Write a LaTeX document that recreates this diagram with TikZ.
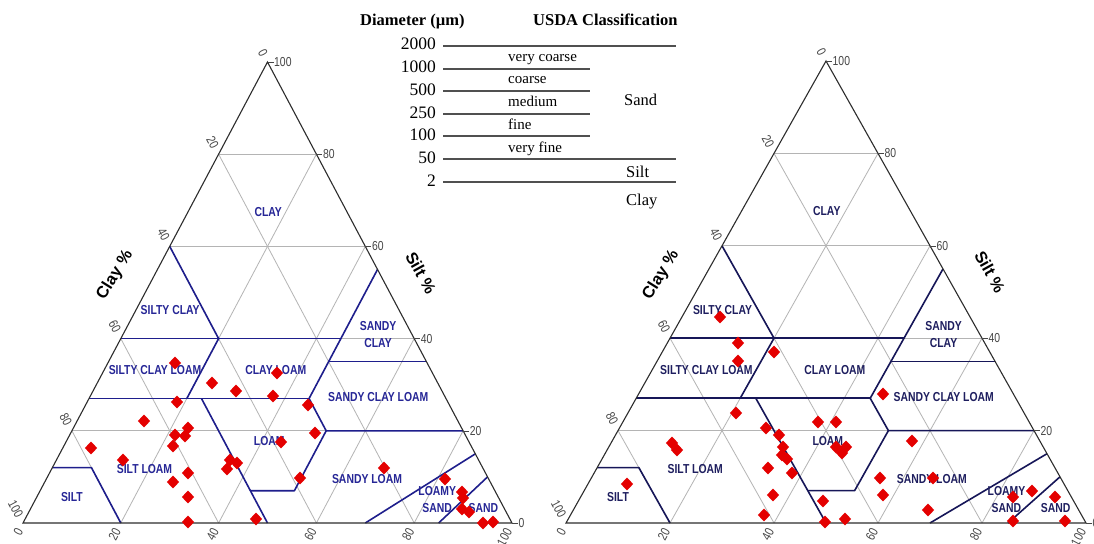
\documentclass[tikz,border=0pt]{standalone}
\usepackage{fontspec}
\setmainfont{Liberation Serif}
\newfontfamily\lsans{Liberation Sans}
\usetikzlibrary{shapes.geometric}

\definecolor{navyL}{RGB}{30,30,140}
\definecolor{navyR}{RGB}{22,22,88}
\definecolor{labL}{RGB}{38,38,150}
\definecolor{labR}{RGB}{30,30,95}
\definecolor{gridc}{RGB}{180,180,180}
\definecolor{outc}{RGB}{45,45,45}
\definecolor{ptred}{RGB}{228,0,0}
\definecolor{tickc}{RGB}{70,70,70}
\definecolor{tblc}{RGB}{80,80,80}

\newcommand\nar[1]{\scalebox{0.8}[1]{#1}}

% #1 prefix, #2 label colour, #3 boundary colour
\newcommand\soiltri[3]{%
  \foreach \k in {20,40,60,80}{
    \pgfmathtruncatemacro\m{100-\k}
    \draw[gridline] (0,\k) -- (\m,\k);
    \draw[gridline] (\k,0) -- (\k,\m);
    \draw[gridline] (\k,0) -- (0,\k);
  }
  \begin{scope}[bnd, draw=#3]
    \draw (0,40) -- (45,40);
    \draw (0,60) -- (20,40) -- (20,27);
    \draw (0,27) -- (45,27);
    \draw (45,27) -- (45,55);
    \draw (45,35) -- (65,35);
    \draw (45,27) -- (52,20) -- (80,20);
    \draw (52,20) -- (52,7) -- (43,7);
    \draw (23,27) -- (50,0);
    \draw (0,12) -- (8,12) -- (20,0);
    \draw (70,0) -- (85,15);
    \draw (85,0) -- (90,10);
  \end{scope}
  \draw[outline] (0,0) -- (100,0) -- (0,100) -- cycle;
  \foreach \k in {0,20,40,60,80,100}{
    \pgfmathtruncatemacro\m{100-\k}
    \node[ticklab, rotate=62, anchor=east] (#1b\k) at ([shift={(-3pt,-6pt)}]\k,0) {\nar{\k}};
    \node[ticklab, rotate=-62, anchor=east] (#1l\k) at ([shift={(-3pt,6pt)}]0,\k) {\nar{\m}};
    \draw[draw=tickc, line width=0.6pt] (\m,\k) -- ++(6pt,0pt) coordinate (#1t\k);
    \node[ticklab, anchor=west] (#1r\k) at (#1t\k) {\nar{\k}};
  }
  \begin{scope}[every node/.style={cls, text=#2}]
    \node (#1clay) at (16.4,67.5) {\nar{CLAY}};
    \node (#1sc) at (7,46.2) {\nar{SILTY CLAY}};
    \node (#1scl) at (10.4,33.2) {\nar{SILTY CLAY LOAM}};
    \node (#1cl) at (35.1,33.2) {\nar{CLAY LOAM}};
    \node (#1sac) at (52.2,40.8) {\nar{SANDY}\\\nar{CLAY}};
    \node (#1sacl) at (59,27.3) {\nar{SANDY CLAY LOAM}};
    \node (#1loam) at (41.5,17.7) {\nar{LOAM}};
    \node (#1sil) at (19,11.7) {\nar{SILT LOAM}};
    \node (#1silt) at (7.2,5.6) {\nar{SILT}};
    \node (#1sal) at (65.6,9.5) {\nar{SANDY LOAM}};
    \node (#1ls) at (82.2,5) {\nar{LOAMY}\\\nar{SAND}};
    \node (#1sand) at (92.5,3.3) {\nar{SAND}};
  \end{scope}
}

\begin{document}
\begin{tikzpicture}[x=1pt,y=-1pt,
  gridline/.style={draw=gridc, line width=0.8pt},
  bnd/.style={line width=1.6pt, line join=round},
  outline/.style={draw=outc, line width=1.1pt},
  ticklab/.style={text=tickc, font=\lsans\fontsize{13}{14}\selectfont, inner sep=0.5pt},
  cls/.style={font=\lsans\bfseries\fontsize{13}{17}\selectfont, inner sep=0pt, align=center},
  dmd/.style={diamond, fill=ptred, inner sep=0pt, minimum width=12.5pt, minimum height=13pt},
  axtitle/.style={font=\lsans\bfseries\fontsize{16.5}{18}\selectfont, inner sep=0pt},
  tbl/.style={draw=tblc, line width=1.2pt},
  tnum/.style={font=\fontsize{17.5}{18}\selectfont, inner sep=0pt, anchor=base east},
  tsub/.style={font=\fontsize{15}{16}\selectfont, inner sep=0pt, anchor=base west},
  tcls/.style={font=\fontsize{16.5}{17}\selectfont, inner sep=0pt, anchor=base west},
  ttitle/.style={font=\bfseries\fontsize{16.5}{17}\selectfont, inner sep=0pt, anchor=base west}]
\useasboundingbox (0,0) rectangle (1094,543);
\fill[white] (0,0) rectangle (1094,543);

% ---------- left triangle ----------
\begin{scope}[shift={(23,523)}, x={(4.89pt,0pt)}, y={(2.445pt,4.61pt)}]
  \soiltri{L}{labL}{navyL}
\end{scope}
\node[axtitle, rotate=58] (Lcpc) at (115,275) {Clay \%};
\node[axtitle, rotate=-61] (Lspc) at (421,273) {Silt \%};

% ---------- right triangle ----------
\begin{scope}[shift={(566,523)}, x={(5.2pt,0pt)}, y={(2.6pt,4.62pt)}]
  \soiltri{R}{labR}{navyR}
\end{scope}
\node[axtitle, rotate=58] (Rcpc) at (661,275) {Clay \%};
\node[axtitle, rotate=-61] (Rspc) at (990,272) {Silt \%};

% ---------- data points ----------
\foreach \px/\py [count=\i] in {175/363,212/383,236/391,277/373,273/396,177/402,144/421,
  188/428,175/435,185/436,173/446,91/448,123/460,230/460,237/463,227/469,188/473,173/482,
  188/497,188/522,256/519,308/405,315/433,281/442,300/478,384/468,445/479,462/492,463/498,
  462/509,469/512,483/523,493/522}
  \node[dmd] (Lp\i) at (\px,\py) {};
\foreach \px/\py [count=\i] in {720/317,738/343,738/361,774/352,736/413,766/428,779/435,
  783/447,782/455,787/459,792/473,768/468,773/495,764/515,672/443,677/450,627/484,818/422,
  836/422,836/447,846/447,842/453,823/501,825/522,845/519,883/394,912/441,880/478,883/495,
  933/478,928/510,1032/491,1013/497,1013/521,1055/497,1065/521}
  \node[dmd] (Rp\i) at (\px,\py) {};

% ---------- size table ----------
\node[ttitle] (th1) at (360,26) {Diameter (µm)};
\node[ttitle] (th2) at (533,26) {USDA Classification};
\foreach \v/\b [count=\i] in {2000/50,1000/73,500/95,250/118,100/140,50/163,2/186}
  \node[tnum] (n\i) at (436,\b) {\v};
\coordinate (a1) at (443,46);  \coordinate (b1) at (676,46);
\coordinate (a2) at (443,69);  \coordinate (b2) at (590,69);
\coordinate (a3) at (443,91);  \coordinate (b3) at (590,91);
\coordinate (a4) at (443,114); \coordinate (b4) at (590,114);
\coordinate (a5) at (443,136); \coordinate (b5) at (590,136);
\coordinate (a6) at (443,159); \coordinate (b6) at (676,159);
\coordinate (a7) at (443,182); \coordinate (b7) at (676,182);
\foreach \i in {1,...,7} \draw[tbl] (a\i) -- (b\i);
\node[tsub] (s1) at (508,61) {very coarse};
\node[tsub] (s2) at (508,83) {coarse};
\node[tsub] (s3) at (508,106) {medium};
\node[tsub] (s4) at (508,129) {fine};
\node[tsub] (s5) at (508,152) {very fine};
\node[tcls] (c1) at (624,105) {Sand};
\node[tcls] (c2) at (626,177) {Silt};
\node[tcls] (c3) at (626,205) {Clay};
\end{tikzpicture}
\end{document}
